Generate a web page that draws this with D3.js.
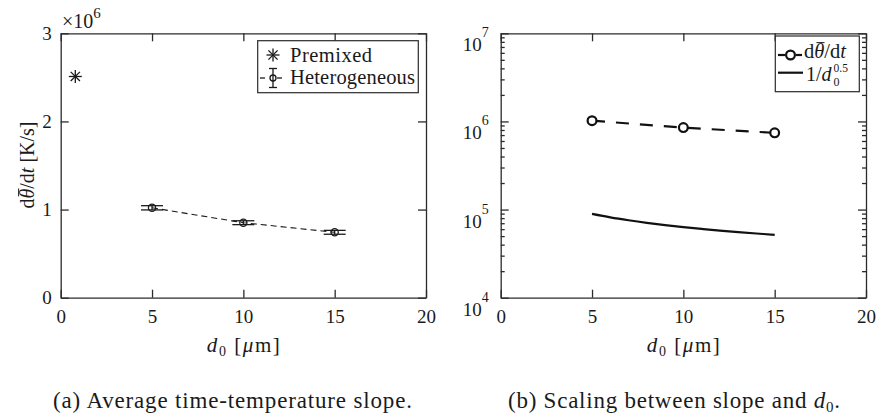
<!DOCTYPE html>
<html><head><meta charset="utf-8">
<script src="https://cdn.jsdelivr.net/npm/d3@7"></script>
<style>
body{margin:0;background:#fff;}
.axis path,.axis line{stroke:#2b2b2b;stroke-width:1.3;}
</style></head>
<body><svg id="fig" width="877" height="416" font-family="Liberation Serif, DejaVu Serif, serif"></svg>
<script>
// droplet diameter d0 [um] of the heterogeneous cases
const diameters = [5, 10, 15];
// average slope dθ/dt [K/s] and its spread
const slopeHetero = [1.02e6, 0.851e6, 0.742e6];
const slopeErr = [0.024e6, 0.022e6, 0.022e6];
// premixed reference case
const premixedD = [0.8];
const premixedSlope = [2.51e6];
// 1/d0^0.5 reference curve (scaled)
const scalingD = [5, 6, 7, 8, 9, 10, 11, 12, 13, 14, 15];
const scalingVals = [89400, 81600, 75600, 70700, 66700, 63200, 60300, 57700, 55500, 53500, 51600];
// tick labels
const xTicks = [0, 5, 10, 15, 20];
const yTicksLin = [0, 1, 2, 3];
const yTicksLog = [1e4, 1e5, 1e6, 1e7];

const FONT = "'Liberation Serif', 'DejaVu Serif', serif";
const svg = d3.select("#fig");
const yTop = 33.3, yBot = 297.7;
const panels = [{x0: 60.7, x1: 426}, {x0: 500.7, x1: 866}];

function frameAxes(g, x, y, yMajor, yFmt, log) {
  g.append("g").attr("class", "axis").attr("transform", `translate(0,${yBot})`)
    .call(d3.axisBottom(x).tickValues(xTicks).tickSize(-8).tickSizeOuter(0).tickPadding(12))
    .call(s => s.selectAll("text").attr("font-size", 19));
  g.append("g").attr("class", "axis").attr("transform", `translate(0,${yTop})`)
    .call(d3.axisTop(x).tickValues(xTicks).tickSize(-8).tickSizeOuter(0).tickFormat(""));
  const left = g.append("g").attr("class", "axis").attr("transform", `translate(${x.range()[0]},0)`)
    .call(d3.axisLeft(y).tickValues(yMajor).tickSize(-8).tickSizeOuter(0).tickPadding(9).tickFormat(yFmt));
  left.selectAll("text").attr("font-size", 19);
  g.append("g").attr("class", "axis").attr("transform", `translate(${x.range()[1]},0)`)
    .call(d3.axisRight(y).tickValues(yMajor).tickSize(-8).tickSizeOuter(0).tickFormat(""));
  if (log) {
    const minor = [];
    [1e4, 1e5, 1e6].forEach(p => { for (let k = 2; k <= 9; k++) minor.push(k * p); });
    g.append("g").attr("class", "axis").attr("transform", `translate(${x.range()[0]},0)`)
      .call(d3.axisLeft(y).tickValues(minor).tickSize(-4).tickSizeOuter(0).tickFormat(""))
      .select(".domain").remove();
    g.append("g").attr("class", "axis").attr("transform", `translate(${x.range()[1]},0)`)
      .call(d3.axisRight(y).tickValues(minor).tickSize(-4).tickSizeOuter(0).tickFormat(""))
      .select(".domain").remove();
    left.selectAll(".tick text").attr("dx", -3).each(function(d) {
      const t = d3.select(this).text("").attr("dy", "0.92em");
      t.append("tspan").text("10");
      t.append("tspan").attr("font-size", 14).attr("dy", "-1.0em").text(Math.round(Math.log10(d)));
    });
  }
}

function xLabel(g, cx) {
  const t = g.append("text").attr("x", cx).attr("y", 352).attr("text-anchor", "middle")
    .attr("font-size", 21).attr("textLength", 73).attr("lengthAdjust", "spacing");
  t.append("tspan").attr("font-style", "italic").text("d");
  t.append("tspan").attr("font-size", 14).attr("dy", 4).text("0");
  t.append("tspan").attr("dy", -4).text(" [");
  t.append("tspan").attr("font-style", "italic").text("μ");
  t.append("tspan").text("m]");
}

function asterisk(sel, cx, cy, r) {
  const a = sel.append("g").attr("transform", `translate(${cx},${cy})`)
    .attr("stroke", "#1a1a1a").attr("stroke-width", 1.3);
  [0, 45, 90, 135].forEach(ang => {
    const rad = ang * Math.PI / 180;
    a.append("line").attr("x1", -r * Math.cos(rad)).attr("y1", -r * Math.sin(rad))
      .attr("x2", r * Math.cos(rad)).attr("y2", r * Math.sin(rad));
  });
}

// "dθ/dt"; the bar over theta is added once the glyphs are laid out
function slopeSymbol(g, x0, yBase, size, rotate) {
  const t = g.append("text").attr("class", "slope").attr("font-size", size);
  if (rotate) t.attr("transform", rotate); else t.attr("x", x0).attr("y", yBase);
  t.append("tspan").text("d");
  t.append("tspan").attr("font-style", "italic").text("θ");
  t.append("tspan").text("/d");
  t.append("tspan").attr("font-style", "italic").text("t");
  return t;
}

/* ---------- (a) linear axis ---------- */
{
  const p = panels[0];
  const g = svg.append("g");
  const x = d3.scaleLinear().domain([0, 20]).range([p.x0, p.x1]);
  const y = d3.scaleLinear().domain([0, 3e6]).range([yBot, yTop]);
  frameAxes(g, x, y, yTicksLin.map(v => v * 1e6), d => String(d / 1e6), false);

  // exponent label
  const ex = g.append("text").attr("x", 62).attr("y", 28).attr("font-size", 20);
  ex.append("tspan").text("×10");
  ex.append("tspan").attr("font-size", 15).attr("dy", -10).text("6");

  // heterogeneous: dashed line + error bars + circles
  const pts = diameters.map((d, i) => ({d, v: slopeHetero[i], e: slopeErr[i]}));
  g.append("path").datum(pts)
    .attr("d", d3.line().x(q => x(q.d)).y(q => y(q.v)))
    .attr("fill", "none").attr("stroke", "#1a1a1a").attr("stroke-width", 1.1).attr("stroke-dasharray", "6,4");
  const eb = g.append("g").attr("stroke", "#1a1a1a").attr("stroke-width", 1.3).attr("fill", "none");
  pts.forEach(q => {
    eb.append("line").attr("x1", x(q.d)).attr("x2", x(q.d)).attr("y1", y(q.v - q.e)).attr("y2", y(q.v + q.e));
    [q.v - q.e, q.v + q.e].forEach(c => eb.append("line")
      .attr("x1", x(q.d) - 11).attr("x2", x(q.d) + 11).attr("y1", y(c)).attr("y2", y(c)));
    eb.append("circle").attr("cx", x(q.d)).attr("cy", y(q.v)).attr("r", 3.6);
  });

  // premixed asterisk
  premixedD.forEach((d, i) => asterisk(g, x(d), y(premixedSlope[i]), 6.5));

  // legend
  g.append("rect").attr("x", 257.7).attr("y", 40.7).attr("width", 160.6).attr("height", 52)
    .attr("fill", "#fff").attr("stroke", "#2b2b2b").attr("stroke-width", 1.2);
  asterisk(g, 273, 55, 6.5);
  g.append("text").attr("x", 290).attr("y", 61.5).attr("font-size", 20.5)
    .attr("textLength", 82).attr("lengthAdjust", "spacing").text("Premixed");
  const lg = g.append("g").attr("stroke", "#1a1a1a").attr("stroke-width", 1.3).attr("fill", "none");
  lg.append("line").attr("x1", 260).attr("x2", 265).attr("y1", 78).attr("y2", 78);
  lg.append("line").attr("x1", 273).attr("x2", 273).attr("y1", 68.5).attr("y2", 87.5);
  lg.append("line").attr("x1", 269).attr("x2", 277).attr("y1", 68.5).attr("y2", 68.5);
  lg.append("line").attr("x1", 269).attr("x2", 277).attr("y1", 87.5).attr("y2", 87.5);
  lg.append("line").attr("x1", 277).attr("x2", 282).attr("y1", 78).attr("y2", 78);
  lg.append("circle").attr("cx", 273).attr("cy", 78).attr("r", 3);
  g.append("text").attr("x", 290).attr("y", 84).attr("font-size", 20.5)
    .attr("textLength", 125).attr("lengthAdjust", "spacing").text("Heterogeneous");

  // y label
  const yl = slopeSymbol(g, 0, 0, 20, "translate(34,165) rotate(-90)").attr("text-anchor", "middle");
  yl.append("tspan").text(" [K/s]");

  xLabel(g, x(10));
  g.append("text").attr("x", 232.5).attr("y", 408).attr("text-anchor", "middle").attr("font-size", 23)
    .attr("textLength", 359).attr("lengthAdjust", "spacing")
    .text("(a) Average time-temperature slope.");
}

/* ---------- (b) logarithmic axis ---------- */
{
  const p = panels[1];
  const g = svg.append("g");
  const x = d3.scaleLinear().domain([0, 20]).range([p.x0, p.x1]);
  const y = d3.scaleLog().domain([1e4, 1e7]).range([yBot, yTop]);
  frameAxes(g, x, y, yTicksLog, () => "", true);

  // reference curve
  g.append("path").datum(scalingD.map((d, i) => [d, scalingVals[i]]))
    .attr("d", d3.line().x(q => x(q[0])).y(q => y(q[1])).curve(d3.curveMonotoneX))
    .attr("fill", "none").attr("stroke", "#111").attr("stroke-width", 2.2);

  // measured slope
  g.append("path").datum(diameters.map((d, i) => [d, slopeHetero[i]]))
    .attr("d", d3.line().x(q => x(q[0])).y(q => y(q[1])))
    .attr("fill", "none").attr("stroke", "#111").attr("stroke-width", 2.2).attr("stroke-dasharray", "13,11");
  g.selectAll(".pt").data(diameters).join("circle").attr("class", "pt")
    .attr("cx", d => x(d)).attr("cy", (d, i) => y(slopeHetero[i])).attr("r", 4.4)
    .attr("fill", "#fff").attr("stroke", "#111").attr("stroke-width", 2.2);

  // legend
  g.append("rect").attr("x", 775.3).attr("y", 36).attr("width", 84).attr("height", 55.7)
    .attr("fill", "#fff").attr("stroke", "#2b2b2b").attr("stroke-width", 1.2);
  g.append("line").attr("x1", 778).attr("x2", 785).attr("y1", 55).attr("y2", 55).attr("stroke", "#111").attr("stroke-width", 2.2);
  g.append("line").attr("x1", 796).attr("x2", 802).attr("y1", 55).attr("y2", 55).attr("stroke", "#111").attr("stroke-width", 2.2);
  g.append("circle").attr("cx", 790.5).attr("cy", 55).attr("r", 4.4).attr("fill", "#fff").attr("stroke", "#111").attr("stroke-width", 2.2);
  slopeSymbol(g, 804, 58, 20.5, null);
  g.append("line").attr("x1", 778).attr("x2", 803).attr("y1", 72.7).attr("y2", 72.7).attr("stroke", "#111").attr("stroke-width", 2.2);
  const t2 = g.append("text").attr("x", 806).attr("y", 81).attr("font-size", 20);
  t2.append("tspan").text("1/");
  t2.append("tspan").attr("font-style", "italic").text("d");
  t2.style("font-family", FONT);
  const w2 = t2.node().getComputedTextLength() + 2;
  g.append("text").attr("x", 806 + w2).attr("y", 86).attr("font-size", 12).text("0");
  g.append("text").attr("x", 806 + w2).attr("y", 71.5).attr("font-size", 11.5).text("0.5");

  xLabel(g, x(10));
  const cap = g.append("text").attr("x", 674).attr("y", 408).attr("text-anchor", "middle").attr("font-size", 23)
    .attr("textLength", 332).attr("lengthAdjust", "spacing");
  cap.append("tspan").text("(b) Scaling between slope and ");
  cap.append("tspan").attr("font-style", "italic").text("d");
  cap.append("tspan").attr("font-size", 15).attr("dy", 4).text("0");
  cap.append("tspan").attr("dy", -4).text(".");
}

// one serif family and ink colour for every label
svg.selectAll("text").style("font-family", FONT).style("fill", "#1a1a1a");

// bars over theta, placed from the laid-out glyph box
svg.selectAll("text.slope").each(function() {
  const box = this.getExtentOfChar(1);
  const holder = d3.select(this.parentNode).append("g");
  const tf = this.getAttribute("transform");
  if (tf) holder.attr("transform", tf);
  holder.append("line")
    .attr("x1", box.x + box.width * 0.22).attr("x2", box.x + box.width * 1.02)
    .attr("y1", box.y + box.height * 0.12).attr("y2", box.y + box.height * 0.12)
    .attr("stroke", "#1a1a1a").attr("stroke-width", 1);
});
</script>
</body></html>
